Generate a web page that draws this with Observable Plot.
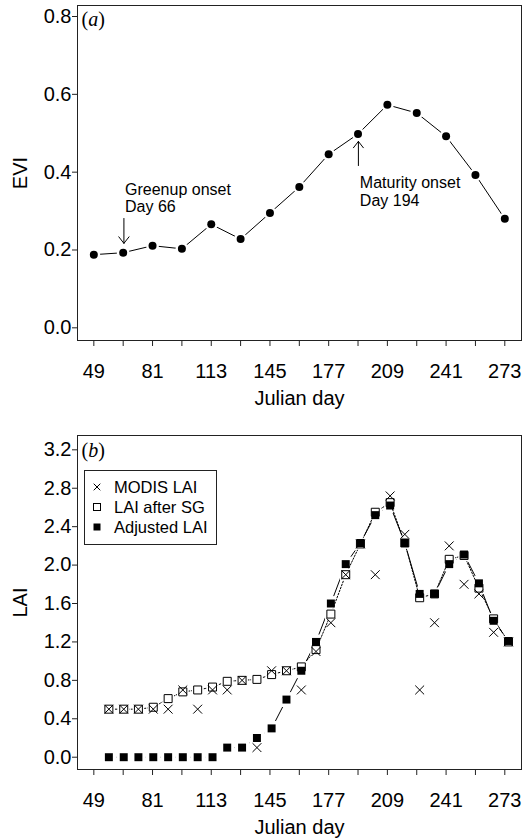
<!DOCTYPE html>
<html>
<head>
<meta charset="utf-8">
<script src="https://cdn.jsdelivr.net/npm/d3@7"></script>
<script src="https://cdn.jsdelivr.net/npm/@observablehq/plot@0.6"></script>
<style>
  html, body { margin: 0; padding: 0; background: white; }
  #wrap { position: relative; width: 527px; height: 839px; overflow: hidden; color: black; }
  #wrap svg { display: block; }
  .plabel { position: absolute; font-family: "Liberation Serif", "Times New Roman", serif; font-size: 20px; line-height: 20px; color: black; }
  #legend { position: absolute; left: 84px; top: 470px; width: 133px; height: 75px; box-sizing: border-box;
            border: 1px solid #222; background: white; font-family: "Liberation Sans", Arial, sans-serif; font-size: 16.5px; }
  #legend .row { position: absolute; left: 0; height: 20px; line-height: 20px; white-space: nowrap; }
  #legend .row svg { position: absolute; left: 7px; top: 5px; }
  #legend .row span { position: absolute; left: 29px; top: 0; }
</style>
</head>
<body>
<div id="wrap">
  <div id="pa"></div>
  <div id="pb"></div>
  <div class="plabel" style="left:81.5px; top:8.5px;">(<i>a</i>)</div>
  <div class="plabel" style="left:81.5px; top:439.5px;">(<i>b</i>)</div>
  <div id="legend"></div>
</div>
<script>
// ---------- Data ----------
// Panel (a): EVI, 16-day composites
const eviDays = [49, 65, 81, 97, 113, 129, 145, 161, 177, 193, 209, 225, 241, 257, 273];
const eviValues = [0.188, 0.193, 0.211, 0.203, 0.266, 0.228, 0.295, 0.362, 0.446, 0.498, 0.573, 0.552, 0.492, 0.393, 0.280];

// Phenology annotations (panel a)
const annoLabels = ["Greenup onset\nDay 66", "Maturity onset\nDay 194"];
const annoTextDay = [66, 194];
const annoTextEVI = [0.374, 0.390];
const annoArrowDay = [65.4, 193.2];
const annoArrowTail = [0.281, 0.417];
const annoArrowHead = [0.217, 0.479];

// Panel (b): LAI, 8-day composites (positions)
const laiDays = [57.2, 65.3, 73.3, 81.4, 89.5, 97.5, 105.6, 113.7, 121.7, 129.8, 137.9, 145.9, 154.0, 162.1,
                 170.1, 178.2, 186.3, 194.3, 202.4, 210.5, 218.5, 226.6, 234.7, 242.7, 250.8, 258.9, 266.9, 275.0];
const modisLAI = [0.50, 0.50, 0.50, 0.50, 0.50, 0.70, 0.50, 0.70, 0.70, 0.80, 0.10, 0.90, 0.90, 0.70,
                  1.10, 1.40, 1.90, 2.22, 1.90, 2.72, 2.32, 0.70, 1.40, 2.20, 1.80, 1.70, 1.30, 1.20];
const sgLAI = [0.50, 0.50, 0.50, 0.52, 0.61, 0.68, 0.70, 0.73, 0.79, 0.80, 0.81, 0.86, 0.90, 0.94,
               1.12, 1.49, 1.90, 2.22, 2.55, 2.65, 2.23, 1.66, 1.70, 2.06, 2.10, 1.76, 1.44, 1.20];
const adjLAI = [0.00, 0.00, 0.00, 0.00, 0.00, 0.00, 0.00, 0.00, 0.10, 0.10, 0.20, 0.30, 0.60, 0.90,
                1.20, 1.60, 2.01, 2.23, 2.52, 2.62, 2.23, 1.70, 1.70, 2.01, 2.11, 1.81, 1.42, 1.21];

// Axis ticks
const xTicks = [49, 65, 81, 97, 113, 129, 145, 161, 177, 193, 209, 225, 241, 257, 273];
const xTickLabels = [49, 81, 113, 145, 177, 209, 241, 273];
const eviTicks = [0, 0.2, 0.4, 0.6, 0.8];
const laiTicks = [0, 0.4, 0.8, 1.2, 1.6, 2.0, 2.4, 2.8, 3.2];
const legendNames = ["MODIS LAI", "LAI after SG", "Adjusted LAI"];

// ---------- Tables ----------
const eviData = eviDays.map((d, i) => ({day: d, evi: eviValues[i]}));
const annoData = annoLabels.map((t, i) => ({
  label: t, textDay: annoTextDay[i], textY: annoTextEVI[i],
  arrowDay: annoArrowDay[i], tail: annoArrowTail[i], head: annoArrowHead[i]
}));
const laiData = laiDays.map((d, i) => ({day: d, modis: modisLAI[i], sg: sgLAI[i], adj: adjLAI[i]}));

const FONT = "'Liberation Sans', Arial, Helvetica, sans-serif";
const xDomain = [40.1, 282.1];
const fmtX = d => xTickLabels.includes(d) ? String(d) : "";

function commonMarks(yTicks, yLabel) {
  return [
    Plot.frame({stroke: "#222", strokeWidth: 1}),
    Plot.axisX({ticks: xTicks, tickFormat: fmtX, tickSize: 6, tickPadding: 17, label: null, stroke: "#222"}),
    Plot.axisY({ticks: yTicks, tickFormat: d => d.toFixed(1), tickSize: 5, tickPadding: 1, label: null, stroke: "#222"}),
    Plot.text(["Julian day"], {text: d => d, frameAnchor: "bottom", dy: 58, fontSize: 20,
      lineAnchor: "middle", textAnchor: "middle"}),
    Plot.text([yLabel], {text: d => d, frameAnchor: "left", dx: -57, rotate: -90, fontSize: 20,
      lineAnchor: "middle", textAnchor: "middle"})
  ];
}

// ---------- Panel (a) ----------
const plotA = Plot.plot({
  width: 527, height: 420,
  marginTop: 5, marginBottom: 80, marginLeft: 77, marginRight: 6,
  style: {fontFamily: FONT, fontSize: "20px", color: "black", background: "white", overflow: "visible"},
  x: {domain: xDomain},
  y: {domain: [-0.0326, 0.8283]},
  marks: [
    ...commonMarks(eviTicks, "EVI"),
    Plot.line(eviData, {x: "day", y: "evi", stroke: "black", strokeWidth: 1}),
    Plot.dot(eviData, {x: "day", y: "evi", r: 6.4, fill: "white"}),
    Plot.dot(eviData, {x: "day", y: "evi", r: 4, fill: "black"}),
    Plot.arrow(annoData, {x1: "arrowDay", x2: "arrowDay", y1: "tail", y2: "head",
      stroke: "black", strokeWidth: 1, headLength: 17, headAngle: 76}),
    Plot.text(annoData, {x: "textDay", y: "textY", text: "label", textAnchor: "start",
      lineAnchor: "top", lineHeight: 1.08, fontSize: 16})
  ]
});
document.getElementById("pa").appendChild(plotA);

// ---------- Panel (b) ----------
const plotB = Plot.plot({
  width: 527, height: 419,
  marginTop: 15, marginBottom: 70, marginLeft: 77, marginRight: 6,
  style: {fontFamily: FONT, fontSize: "20px", color: "black", background: "white", overflow: "visible"},
  x: {domain: xDomain},
  y: {domain: [-0.128, 3.349]},
  marks: [
    ...commonMarks(laiTicks, "LAI"),
    // Adjusted LAI line with gaps around markers
    Plot.line(laiData, {x: "day", y: "adj", stroke: "black", strokeWidth: 1}),
    Plot.dot(laiData, {x: "day", y: "adj", symbol: "square", r: 8.4, fill: "white"}),
    // LAI after SG dotted line with gaps
    Plot.line(laiData, {x: "day", y: "sg", stroke: "black", strokeWidth: 1, strokeDasharray: "1.6,1.6"}),
    Plot.dot(laiData, {x: "day", y: "sg", symbol: "square", r: 6.6, fill: "white"}),
    // markers
    Plot.dot(laiData, {x: "day", y: "sg", symbol: "square", r: 4.5, fill: "white", stroke: "black", strokeWidth: 1}),
    Plot.dot(laiData, {x: "day", y: "modis", symbol: "times", r: 4.1, stroke: "black", strokeWidth: 1}),
    Plot.dot(laiData, {x: "day", y: "adj", symbol: "square", r: 4.5, fill: "black"})
  ]
});
document.getElementById("pb").appendChild(plotB);

// ---------- Legend (inside panel b) ----------
const symbols = [
  '<svg width="10" height="10"><path d="M1.7,1.7L8.3,8.3M1.7,8.3L8.3,1.7" stroke="black" stroke-width="1" fill="none"/></svg>',
  '<svg width="10" height="10"><rect x="1.5" y="1.5" width="7" height="7" fill="white" stroke="black" stroke-width="1"/></svg>',
  '<svg width="10" height="10"><rect x="1.5" y="1.5" width="7" height="7" fill="black"/></svg>'
];
const rowCenters = [16, 35.5, 55.5];
const legend = document.getElementById("legend");
legendNames.forEach((name, i) => {
  const row = document.createElement("div");
  row.className = "row";
  row.style.top = (rowCenters[i] - 10) + "px";
  row.innerHTML = symbols[i] + "<span></span>";
  row.querySelector("span").textContent = name;
  legend.appendChild(row);
});
</script>
</body>
</html>
